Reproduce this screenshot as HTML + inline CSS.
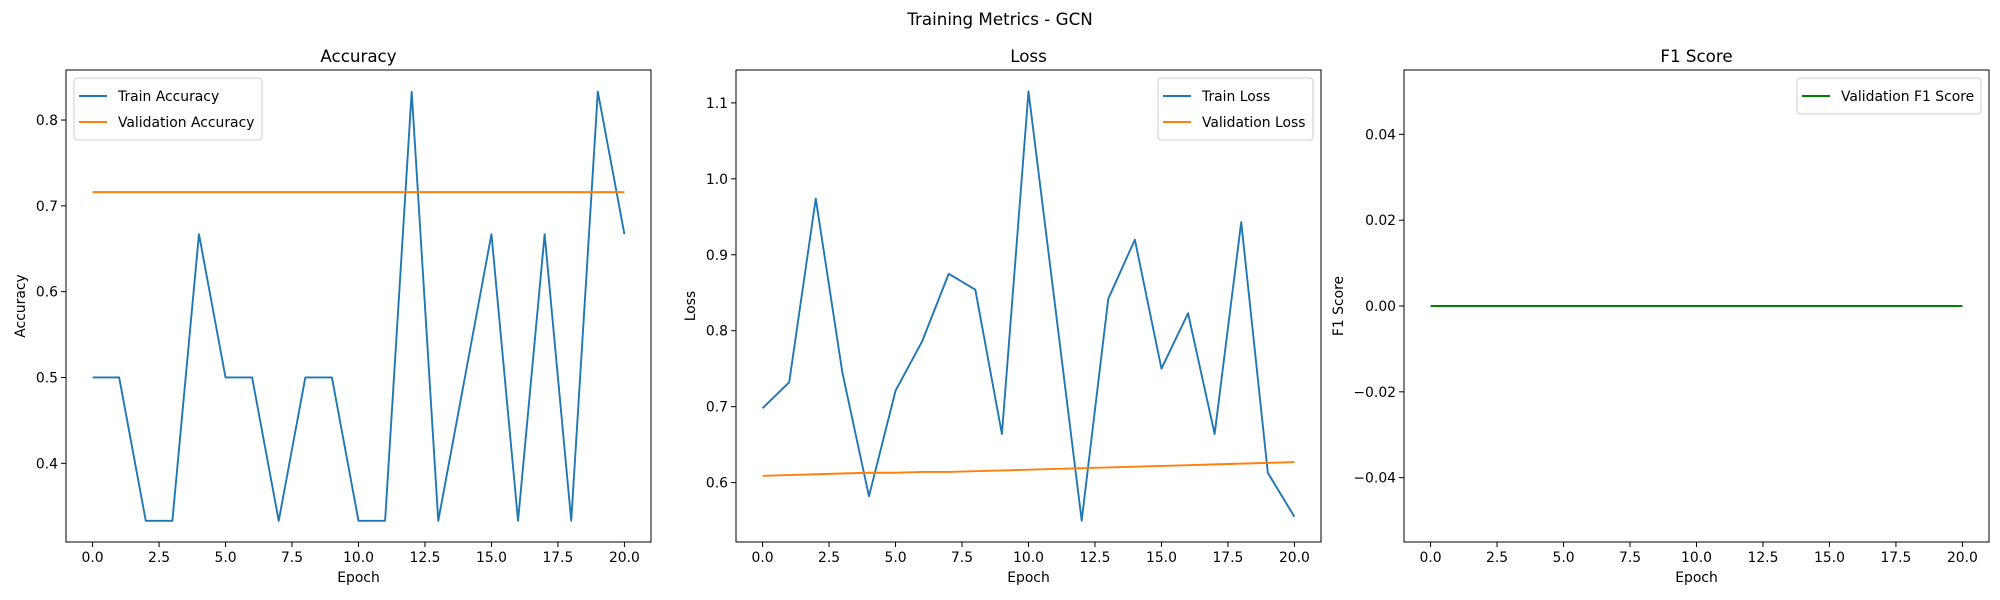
<!DOCTYPE html>
<html><head><meta charset="utf-8"><style>
body{margin:0;background:#fff;}
svg{display:block;font-family:"DejaVu Sans","Liberation Sans",sans-serif;}
</style></head><body>
<svg id="fig" width="2000" height="600" xmlns="http://www.w3.org/2000/svg">
<text x="1000" y="25" text-anchor="middle" font-size="16.7">Training Metrics - GCN</text>
</svg>
<script>
const epochs = [0,1,2,3,4,5,6,7,8,9,10,11,12,13,14,15,16,17,18,19,20];
const trainAcc = [0.5,0.5,0.333,0.333,0.667,0.5,0.5,0.333,0.5,0.5,0.333,0.333,0.833,0.333,0.5,0.667,0.333,0.667,0.333,0.833,0.667];
const valAcc = [0.716,0.716,0.716,0.716,0.716,0.716,0.716,0.716,0.716,0.716,0.716,0.716,0.716,0.716,0.716,0.716,0.716,0.716,0.716,0.716,0.716];
const trainLoss = [0.698,0.732,0.974,0.745,0.582,0.721,0.786,0.875,0.854,0.664,1.115,0.833,0.55,0.842,0.920,0.750,0.823,0.664,0.943,0.613,0.555];
const valLoss = [0.609,0.610,0.611,0.612,0.613,0.613,0.614,0.614,0.615,0.616,0.617,0.618,0.619,0.620,0.621,0.622,0.623,0.624,0.625,0.626,0.627];
const valF1 = [0,0,0,0,0,0,0,0,0,0,0,0,0,0,0,0,0,0,0,0,0];
const xTicks = [0,2.5,5,7.5,10,12.5,15,17.5,20];
const accTicks = [0.4,0.5,0.6,0.7,0.8];
const lossTicks = [0.6,0.7,0.8,0.9,1.0,1.1];
const f1Ticks = [-0.04,-0.02,0,0.02,0.04];

const NS='http://www.w3.org/2000/svg';
const svg=document.getElementById('fig');
function mk(tag,attrs,parent){const e=document.createElementNS(NS,tag);for(const k in attrs)e.setAttribute(k,attrs[k]);(parent||svg).appendChild(e);return e;}
const TOP=70,BOT=542;

function panel(cfg){
  const g=mk('g',{});
  
  
  const L=cfg.left,R=cfg.left+585;
  const xs=v=>L+(v-(-1))/(22)*(R-L);
  const ys=v=>BOT-(v-cfg.ymin)/(cfg.ymax-cfg.ymin)*(BOT-TOP);
  const t=mk('text',{x:(L+R)/2,y:62,'text-anchor':'middle','font-size':16.7},g);t.textContent=cfg.title;
  
  
  xTicks.forEach(v=>{
    mk('line',{x1:xs(v),x2:xs(v),y1:BOT,y2:BOT+5,stroke:'#000','stroke-width':1},g);
    const tt=mk('text',{x:xs(v),y:BOT+20,'text-anchor':'middle','font-size':13.9},g);tt.textContent=v.toFixed(1);
    
    
  });
  cfg.yticks.forEach(v=>{
    mk('line',{x1:L-5,x2:L,y1:ys(v),y2:ys(v),stroke:'#000','stroke-width':1},g);
    const tt=mk('text',{x:L-8,y:ys(v)+5,'text-anchor':'end','font-size':13.9},g);
    tt.textContent=(v<0?'\u2212':'')+Math.abs(v).toFixed(cfg.dec);
    
    
  });
  const xl=mk('text',{x:(L+R)/2,y:582,'text-anchor':'middle','font-size':13.9},g);xl.textContent='Epoch';
  
  
  const yl=mk('text',{x:0,y:0,'text-anchor':'middle','font-size':13.9,transform:`translate(${cfg.ylx},${(TOP+BOT)/2}) rotate(-90)`},g);yl.textContent=cfg.ylabel;
  
  
  cfg.series.forEach(s=>{
    const p=mk('polyline',{points:epochs.map((e,i)=>xs(e)+','+ys(s.data[i])).join(' '),fill:'none',stroke:s.color,'stroke-width':1.9,'stroke-linejoin':'round'},g);
    
    
  });
  const fr=mk('rect',{x:L,y:TOP,width:R-L,height:BOT-TOP,fill:'none',stroke:'#000','stroke-width':1},g);
  
  
  // legend
  const lw=cfg.legW,lh=cfg.series.length*26+10;
  const lx=cfg.legRight?R-8-lw:L+8,ly=TOP+8;
  const lg=mk('g',{},g);
  
  
  mk('rect',{x:lx,y:ly,width:lw,height:lh,rx:3,fill:'#fff','fill-opacity':0.8,stroke:'#ccc','stroke-width':1},lg);
  cfg.series.forEach((s,i)=>{
    const cy=ly+18+i*26;
    mk('line',{x1:lx+5,x2:lx+33,y1:cy,y2:cy,stroke:s.color,'stroke-width':1.9},lg);
    const lt=mk('text',{x:lx+44,y:cy+5,'font-size':13.9},lg);lt.textContent=s.label;
    
    
  });
}
panel({name:'accuracy',title:'Accuracy',left:66,ymin:0.3083,ymax:0.8583,yticks:accTicks,dec:1,ylabel:'Accuracy',ylx:25,legW:188,legRight:false,
  series:[{id:'train-accuracy',label:'Train Accuracy',data:trainAcc,color:'#1f77b4'},{id:'validation-accuracy',label:'Validation Accuracy',data:valAcc,color:'#ff7f0e'}]});
panel({name:'loss',title:'Loss',left:736,ymin:0.5218,ymax:1.1433,yticks:lossTicks,dec:1,ylabel:'Loss',ylx:695,legW:155,legRight:true,
  series:[{id:'train-loss',label:'Train Loss',data:trainLoss,color:'#1f77b4'},{id:'validation-loss',label:'Validation Loss',data:valLoss,color:'#ff7f0e'}]});
panel({name:'f1',title:'F1 Score',left:1404,ymin:-0.055,ymax:0.055,yticks:f1Ticks,dec:2,ylabel:'F1 Score',ylx:1343,legW:184,legRight:true,
  series:[{id:'validation-f1',label:'Validation F1 Score',data:valF1,color:'#008000'}]});
</script>
</body></html>
